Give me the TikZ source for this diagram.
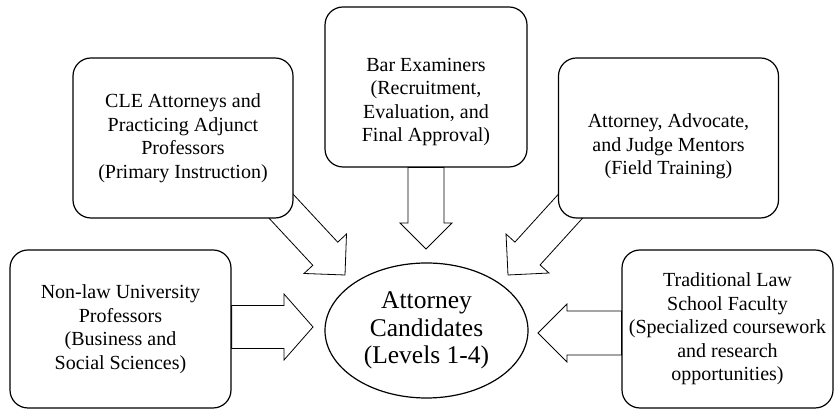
\documentclass[tikz,border=0pt]{standalone}
\usepackage{fontspec}
\setmainfont{Liberation Serif}
\usetikzlibrary{positioning,calc,shapes.geometric}
\pgfdeclarelayer{bg}
\pgfsetlayers{bg,main}
\tikzset{
	group/.style = {draw, fill=white, line width=1.2pt, rounded corners=18pt, align=center,
	 inner sep=2pt, font=\fontsize{20}{23.5}\selectfont},
	cands/.style = {draw, fill=white, ellipse, line width=1.2pt, align=center, inner sep=0pt,
	 minimum width=203pt, minimum height=135pt, font=\fontsize{25.5}{27.5}\selectfont},
	fatarrow/.style = {draw, line width=0.8pt, line join=miter}
	}
% block arrow: start, tip, shaft half width, head half width, head length
\newcommand{\blockarrow}[5]{
	 \coordinate (ah) at ($(#2)!#5!(#1)$) ;
	 \draw [fatarrow] ($(#1)!#3!90:(#2)$) -- ($(ah)!#3!-90:(#1)$) -- ($(ah)!#4!-90:(#1)$)
	 -- (#2) -- ($(ah)!#4!90:(#1)$) -- ($(ah)!#3!90:(#1)$) -- ($(#1)!#3!-90:(#2)$) -- cycle ;
	 }

\begin{document}
\begin{tikzpicture}[x=1pt, y=1pt]
\useasboundingbox (0,0) rectangle (835,411);

% NODES
\node (cand) [cands] at (426.5,80.5) {Attorney\\Candidates\\(Levels 1-4)};
\node (nonlaw) [group, minimum width=221pt, minimum height=158pt] at (120.5,82)
	{Non-law University\\Professors\\(Business and\\Social Sciences)};
\node (cle) [group, minimum width=220pt, minimum height=160pt] at (183,273)
	{CLE Attorneys and\\Practicing Adjunct\\Professors\\(Primary Instruction)};
\node (bar) [group, minimum width=202pt, minimum height=160pt, text height=110pt, text depth=0pt] at (426,324)
	{Bar Examiners\\(Recruitment,\\Evaluation, and\\Final Approval)};
\node (mentor) [group, minimum width=220pt, minimum height=160pt, text height=74pt, text depth=0pt] at (668.5,273)
	{Attorney, Advocate,\\and Judge Mentors\\(Field Training)};
\node (faculty) [group, minimum width=211pt, minimum height=158pt] at (727.5,82)
	{Traditional Law\\School Faculty\\(Specialized coursework\\and research\\opportunities)};

% arrow tips
\coordinate (tipR) at (313,84) ;
\coordinate (tipL) at (538,78) ;
\coordinate (tipB) at (426,162) ;
\coordinate (tipC) at (345,136) ;
\coordinate (tipM) at (508,136) ;

%CONNECTIONS
\begin{pgfonlayer}{bg}
\blockarrow{nonlaw.east |- tipR}{tipR}{21.5pt}{33pt}{29pt}
\blockarrow{faculty.west |- tipL}{tipL}{22pt}{29pt}{29pt}
\blockarrow{bar.south}{tipB}{18pt}{26pt}{26pt}
\blockarrow{$(cle.south east)+(-14,14)$}{tipC}{17pt}{29pt}{29pt}
\blockarrow{$(mentor.south west)+(14,14)$}{tipM}{17pt}{29pt}{29pt}
\end{pgfonlayer}

\end{tikzpicture}
\end{document}
